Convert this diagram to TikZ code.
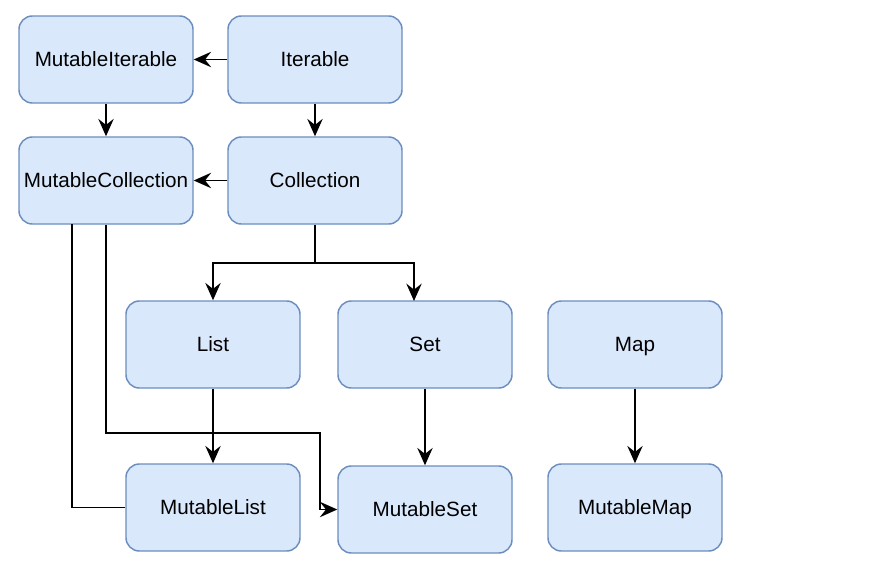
\documentclass[tikz,border=0pt]{standalone}
\usepackage{fontspec}
\setmainfont{Liberation Sans}
\usetikzlibrary{arrows.meta,calc}
\definecolor{boxfill}{HTML}{DAE8FC}
\definecolor{boxline}{HTML}{6C8EBF}
\begin{document}
\begin{tikzpicture}[x=0.75pt,y=-0.75pt,
  cls/.style={draw=boxline,fill=boxfill,line width=1.1pt,rounded corners=10pt,
    minimum width=130.5pt,minimum height=65.25pt,inner sep=0pt,
    text height=12.5pt,text depth=1.5pt,
    font=\fontsize{15.5}{18}\selectfont},
  conn/.style={line width=1.4pt,-{Stealth[length=13pt,width=11.5pt,inset=4.5pt]}},
  plain/.style={line width=1.4pt}]
\useasboundingbox (0,0) rectangle (869,564);
\node[cls] (mi) at (106,59.5) {MutableIterable};
\node[cls] (it) at (315,59.5) {Iterable};
\node[cls] (mc) at (106,180.5) {MutableCollection};
\node[cls] (co) at (315,180.5) {Collection};
\node[cls] (li) at (213,344.5) {List};
\node[cls] (se) at (425,344.5) {Set};
\node[cls] (ma) at (635,344.5) {Map};
\node[cls] (ml) at (213,507.5) {MutableList};
\node[cls] (ms) at (425,509.5) {MutableSet};
\node[cls] (mm) at (635,507.5) {MutableMap};
\coordinate (split) at (315,263);
\coordinate (mcl) at (72,224);
\draw[conn] (it) -- (mi);
\draw[conn] (mi) -- (mc);
\draw[conn] (it) -- (co);
\draw[conn] (co) -- (mc);
\draw[plain] (co.south) -- (split);
\draw[conn] (split) -| (li.north);
\draw[conn] (split) -| (414,301);
\draw[conn] (li) -- (ml);
\draw[conn] (se) -- (ms);
\draw[conn] (ma) -- (mm);
\draw[conn] (mc.south) |- (320,433) |- (ms.west);
\draw[plain] (mcl) |- (ml.west);
\end{tikzpicture}
\end{document}
